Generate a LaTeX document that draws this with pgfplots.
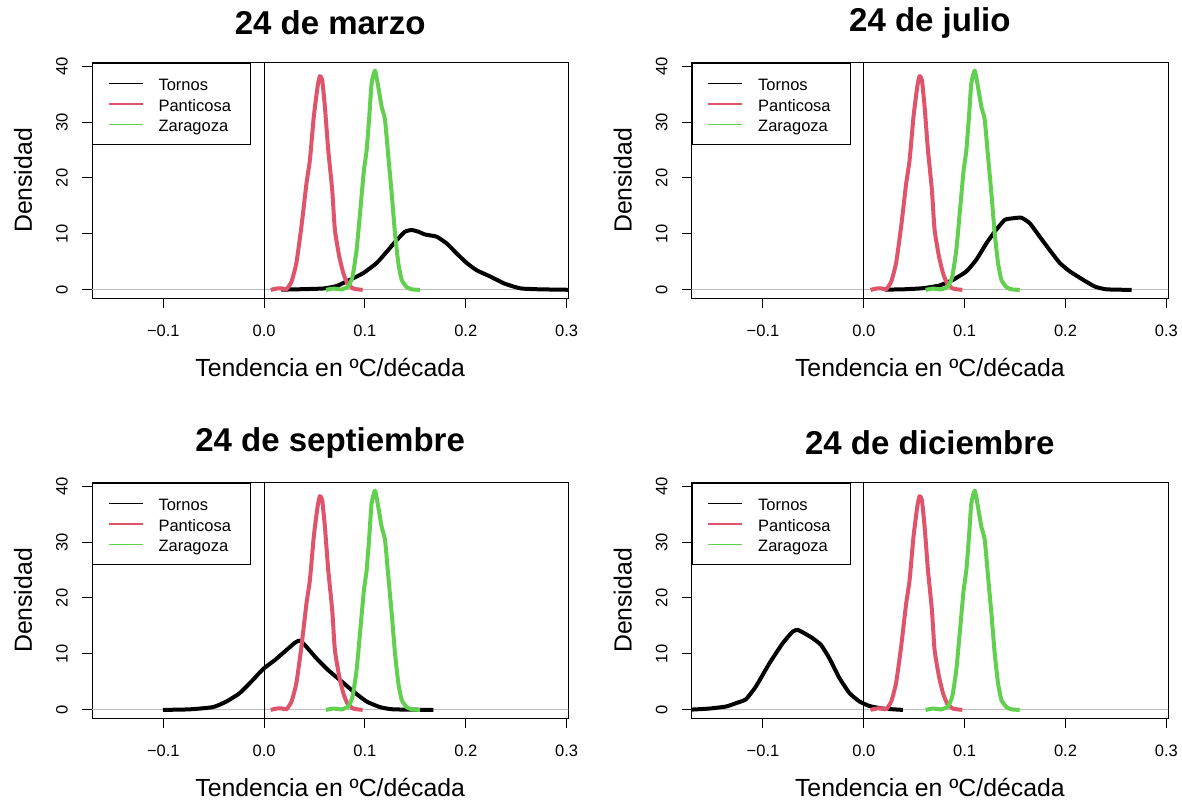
\documentclass[border=0pt]{standalone}
\usepackage{fontspec}
\setmainfont{Liberation Sans}
\usepackage{pgfplots}
\usepackage{pgfplotstable}
\pgfplotsset{compat=1.18}
\definecolor{pant}{HTML}{DF536B}
\definecolor{zara}{HTML}{61D04F}
\definecolor{rgray}{HTML}{BEBEBE}
\newcommand{\ticksize}{\fontsize{8.25pt}{10pt}\selectfont}
\newcommand{\labfont}{\fontsize{12.4pt}{14pt}\selectfont}
\newcommand{\titfont}{\bfseries\fontsize{16.5pt}{19pt}\selectfont}

\pgfplotstableread{
x y
0.0066 0
0.0123 0.24
0.0172 0.28
0.0222 0.12
0.0272 1.5
0.032 4.8
0.037 11.3
0.042 19
0.0454 23.2
0.0493 31
0.053 36.3
0.0553 38.2
0.0576 37.5
0.0603 32.7
0.0636 25
0.0675 17.9
0.0702 10.7
0.0745 6
0.0785 3
0.0825 1.2
0.0884 0.24
0.0977 0
}\panticosa

\pgfplotstableread{
x y
0.0613 0
0.0685 0.24
0.0768 0.1
0.0834 0.6
0.0877 2.4
0.0917 7.1
0.0957 14.9
0.099 21.4
0.1017 25
0.1043 31
0.1066 36.9
0.1100 39.2
0.1132 36.3
0.1166 32.7
0.1199 30.4
0.1232 23.8
0.1265 17.3
0.1298 10.1
0.1331 4.8
0.1364 1.8
0.1414 0.5
0.1464 0.1
0.1546 0
}\zaragoza

\pgfplotstableread{
x y
0.0172 0.05
0.032 0.1
0.0586 0.25
0.0719 0.7
0.0851 1.8
0.0983 3
0.1116 4.8
0.1215 6.8
0.1315 8.9
0.1397 10.4
0.1464 10.7
0.153 10.4
0.1596 9.9
0.1712 9.5
0.1811 8.3
0.1911 6.5
0.201 4.8
0.2109 3.5
0.2242 2.4
0.2374 1.2
0.2474 0.6
0.2556 0.24
0.2738 0.1
0.31 0
}\tornosmar

\pgfplotstableread{
x y
0.0205 0.05
0.0387 0.1
0.0586 0.3
0.0752 0.8
0.0884 1.8
0.1017 3.3
0.1116 5.4
0.1215 8.3
0.1298 10.4
0.1397 12.5
0.148 12.8
0.1563 12.9
0.1646 11.9
0.1745 9.5
0.1844 7.1
0.1944 4.8
0.2043 3.3
0.2175 1.8
0.2291 0.6
0.2407 0.1
0.2656 0
}\tornosjul

\pgfplotstableread{
x y
-0.1003 0
-0.0738 0.1
-0.0507 0.5
-0.0374 1.5
-0.0242 3
-0.0109 5.4
-0.001 7.3
0.0106 8.9
0.0222 10.7
0.0305 12
0.0354 12.4
0.0404 11.6
0.052 9.2
0.0636 7.1
0.0768 5.1
0.0884 3.3
0.1017 1.5
0.1149 0.5
0.1281 0.1
0.1679 0
}\tornossep

\pgfplotstableread{
x y
-0.1800 0.02
-0.1715 0.05
-0.1533 0.24
-0.1368 0.6
-0.1268 1.2
-0.1169 1.9
-0.107 4.2
-0.0937 8.3
-0.0805 11.9
-0.0705 14
-0.0656 14.3
-0.059 13.7
-0.0507 12.8
-0.0424 11.6
-0.0341 9.2
-0.0242 5.7
-0.0142 3
-0.0043 1.5
0.0056 0.7
0.0189 0.24
0.0387 0
}\tornosdic

\pgfplotsset{
  panel/.style={
    scale only axis, width=238.15pt, height=117.8pt,
    xmin=-0.1707, xmax=0.3017, ymin=-1.5, ymax=40.6,
    axis line style={black, line width=0.5pt},
    xtick={-0.1,0,0.1,0.2,0.3},
    xticklabels={−0.1,0.0,0.1,0.2,0.3},
    ytick={0,10,20,30,40},
    yticklabels={0,10,20,30,40},
    tick align=outside, xtick pos=bottom, ytick pos=left,
    major tick length=5pt,
    tick style={black, line width=0.5pt},
    tick label style={font=\ticksize},
    xticklabel style={anchor=center, yshift=-11.5pt},
    yticklabel style={anchor=center, xshift=-10pt, rotate=90},
    every axis title shift=0pt,
    title style={font=\titfont, at={(axis description cs:0.5,1.168)}, anchor=center},
    xlabel={Tendencia en ºC/década},
    xlabel style={font=\labfont, at={(axis description cs:0.5,-0.293)}, anchor=center},
    ylabel={Densidad},
    ylabel style={font=\labfont, at={(axis description cs:-0.145,0.5)}, anchor=center},
    legend style={at={(axis description cs:0,1)}, anchor=north west, draw=black, line width=0.5pt,
      inner xsep=0pt, inner ysep=5.2pt, font=\ticksize, row sep=0pt, column sep=0pt,
      cells={anchor=west}, nodes={inner xsep=0pt, inner ysep=0pt}},
  },
  dens/.style={line width=2pt, line join=round, smooth, tension=0.3,
    legend image code/.code={\draw[##1, line width=0.7pt] (0pt,0pt) -- (17pt,0pt); \path[draw=none,fill=none] (-8pt,0pt) (25pt,0pt);}},
}

\newcommand{\common}[1]{%
  \addplot[rgray, line width=0.5pt, forget plot] coordinates {(-0.3,0) (0.4,0)};
  \addplot[black, line width=0.5pt, forget plot] coordinates {(0,-5) (0,50)};
  \addplot[black, dens] table {#1};
  \addplot[pant, dens] table {\panticosa};
  \addplot[zara, dens] table {\zaragoza};
  \addlegendentry{\rule[-2.1pt]{0pt}{10.75pt}Tornos}
  \addlegendentry{\rule[-2.1pt]{0pt}{10.75pt}Panticosa\hspace*{10pt}}
  \addlegendentry{\rule[-2.1pt]{0pt}{10.75pt}Zaragoza}
}

\begin{document}
\begin{tikzpicture}
\useasboundingbox (0pt,0pt) rectangle (591pt,401.5pt);
\begin{axis}[panel, at={(46pt,252.35pt)}, anchor=south west, title={24 de marzo}]
\common{\tornosmar}
\end{axis}
\begin{axis}[panel, at={(345.85pt,252.35pt)}, anchor=south west, title={24 de julio}]
\common{\tornosjul}
\end{axis}
\begin{axis}[panel, at={(46pt,42.35pt)}, anchor=south west, title={24 de septiembre}]
\common{\tornossep}
\end{axis}
\begin{axis}[panel, at={(345.85pt,42.35pt)}, anchor=south west, title={24 de diciembre}]
\common{\tornosdic}
\end{axis}
\end{tikzpicture}
\end{document}
